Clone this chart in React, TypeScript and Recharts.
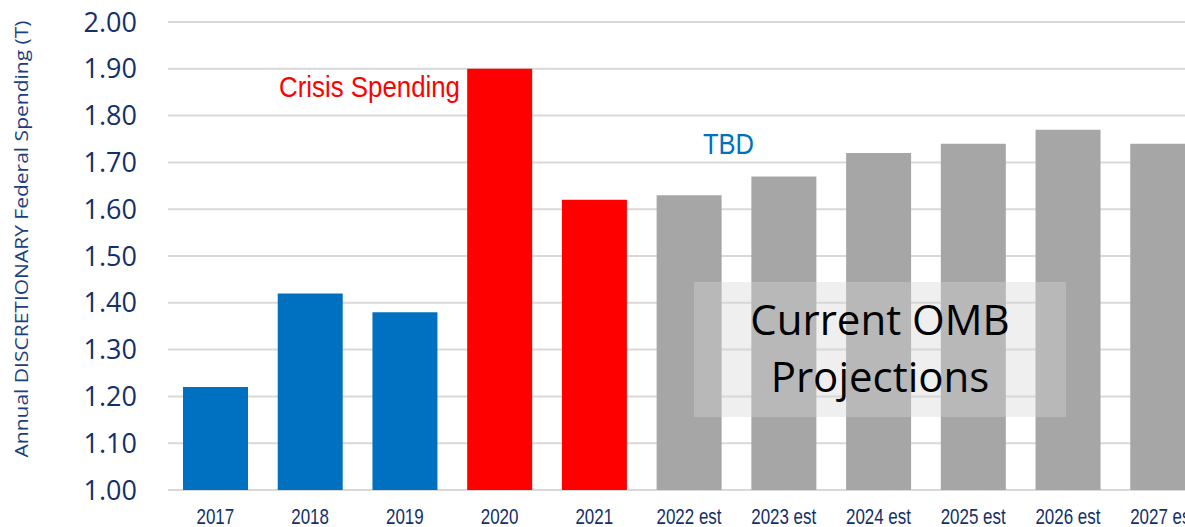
import React from 'react';
import { BarChart, Bar, XAxis, YAxis, CartesianGrid, Cell } from 'recharts';

const years = ['2017', '2018', '2019', '2020', '2021', '2022 est', '2023 est', '2024 est', '2025 est', '2026 est', '2027 est'];
const spending = [1.22, 1.42, 1.38, 1.9, 1.62, 1.63, 1.67, 1.72, 1.74, 1.77, 1.74];
const periods = ['actual', 'actual', 'actual', 'crisis', 'crisis', 'projected', 'projected', 'projected', 'projected', 'projected', 'projected'];
const yTicks = [1.0, 1.1, 1.2, 1.3, 1.4, 1.5, 1.6, 1.7, 1.8, 1.9, 2.0];

const periodColors: Record<string, string> = {
  actual: '#0070C0',
  crisis: '#FF0000',
  projected: '#A6A6A6',
};

const data = years.map((year, i) => ({ year, value: spending[i], period: periods[i] }));

const NAVY = '#13306B';

function YearTick({ x, y, payload }: any) {
  return (
    <g transform={`translate(${x},${y})`}>
      <text
        transform="scale(0.77,1)"
        y={34}
        textAnchor="middle"
        fill={NAVY}
        fontSize={22}
        fontFamily="'Liberation Sans', Arial, sans-serif"
      >
        {payload.value}
      </text>
    </g>
  );
}

function AxisTitle() {
  return (
    <text
      transform="translate(28,239) rotate(-90)"
      textAnchor="middle"
      fill="#1B3F7E"
      fontSize={19}
      fontFamily="'Open Sans', sans-serif"
      textLength={437}
      lengthAdjust="spacingAndGlyphs"
    >
      Annual DISCRETIONARY Federal Spending (T)
    </text>
  );
}

export default function App() {
  return (
    <div style={{ position: 'fixed', left: 0, top: 0, width: 1185, height: 527, overflow: 'hidden', background: '#fff' }}>
      <BarChart width={1210} height={527} data={data} margin={{ top: 22, right: 0, bottom: 0, left: 0 }}>
        <CartesianGrid vertical={false} stroke="#D9D9D9" strokeWidth={2} />
        <XAxis
          dataKey="year"
          height={37}
          axisLine={false}
          tickLine={false}
          tickSize={0}
          tickMargin={0}
          interval={0}
          tick={<YearTick />}
        />
        <YAxis
          width={168}
          domain={[1, 2]}
          ticks={yTicks}
          allowDataOverflow
          axisLine={false}
          tickLine={false}
          tickSize={0}
          tickMargin={31}
          tickFormatter={(v: number) => v.toFixed(2)}
          tick={{ fill: NAVY, fontSize: 27, fontFamily: "'Open Sans', sans-serif" }}
        />
        <Bar dataKey="value" barSize={65} isAnimationActive={false}>
          {data.map((d) => (
            <Cell key={d.year} fill={periodColors[d.period]} />
          ))}
        </Bar>
      </BarChart>
      <svg width={1185} height={527} style={{ position: 'absolute', left: 0, top: 0, pointerEvents: 'none' }}>
        <AxisTitle />
        <text
          x={279}
          y={97}
          fill="#FF0000"
          fontSize={30}
          fontFamily="'Liberation Sans', Arial, sans-serif"
          textLength={181}
          lengthAdjust="spacingAndGlyphs"
        >
          Crisis Spending
        </text>
        <text
          x={703}
          y={154}
          fill="#0070C0"
          fontSize={30}
          fontFamily="'Liberation Sans', Arial, sans-serif"
          textLength={51}
          lengthAdjust="spacingAndGlyphs"
        >
          TBD
        </text>
        <rect x={694} y={282} width={372} height={135} fill="#D5D5D5" fillOpacity={0.38} />
        <text x={880} y={335} textAnchor="middle" fill="#000" fontSize={42} fontFamily="'Open Sans', sans-serif">
          Current OMB
        </text>
        <text x={880} y={392} textAnchor="middle" fill="#000" fontSize={42} fontFamily="'Open Sans', sans-serif">
          Projections
        </text>
      </svg>
    </div>
  );
}
